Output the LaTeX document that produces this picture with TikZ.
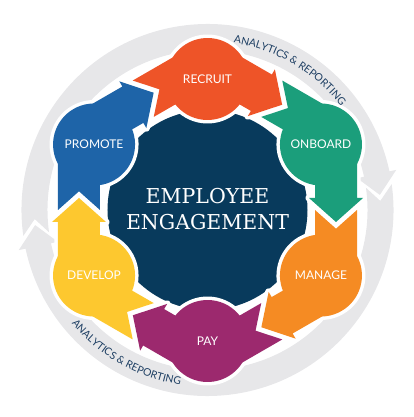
\documentclass[tikz,border=0pt]{standalone}
\usepackage{fontspec}
\usepackage{xcolor}
\usepackage{tikz}
\usetikzlibrary{decorations.text}
\newfontfamily\labelfont{Lato}
\newfontfamily\centrefont{DejaVu Serif}
\definecolor{ringgrey}{HTML}{E7E7E9}
\definecolor{corenavy}{HTML}{083A5C}
\definecolor{arcnavy}{HTML}{1E3F63}
\definecolor{recruitred}{HTML}{EE5428}
\definecolor{onboardgreen}{HTML}{1B9E7B}
\definecolor{manageorange}{HTML}{F58B23}
\definecolor{paypurple}{HTML}{9C296E}
\definecolor{developyellow}{HTML}{FDC82F}
\definecolor{promoteblue}{HTML}{1E64A8}

\newcommand{\arcfont}{\labelfont\fontsize{10.5}{12}\selectfont\color{arcnavy}}
% half of the grey ring, head at 5 degrees
\newcommand{\ringhalf}[1]{%
  \fill[ringgrey, rotate=#1] (188:186) arc[start angle=188, end angle=12, radius=186]
    -- (12:193) -- (5:173) -- (12:153) -- (12:160)
    arc[start angle=12, end angle=188, radius=160] -- (183:173) -- cycle;}
% one step of the cycle: circle, arrow head and notched tail
\newcommand{\cyclepart}[2]{%
  \begin{scope}[rotate=#1]
    \path[#2] (30:131) circle (41);
    \path[#2] (107.5,60) -- (107.5,12) -- (101.5,12) -- (128.5,-12)
      -- (155.5,12) -- (149.5,12) -- (149.5,60) -- cycle;
    \path[#2, rotate=60] (107.5,0) -- (128.5,-18.7) -- (149.5,0)
      -- (149.5,-60) -- (107.5,-60) -- cycle;
  \end{scope}}

\begin{document}
\begin{tikzpicture}[x=1pt, y=1pt,
    halo/.style={fill=white, draw=white, line width=7pt, line join=round},
    steplabel/.style={text=white, font=\labelfont\fontsize{12}{14}\selectfont},
    centretext/.style={text=white, align=center,
      font=\centrefont\fontsize{20.5}{26}\selectfont}]
  \useasboundingbox (-207.5,-207) rectangle (206.5,210);
  \ringhalf{0}
  \ringhalf{180}
  \fill[corenavy] (0,0) circle (100);
  \cyclepart{60}{halo}
  \cyclepart{0}{halo}
  \cyclepart{-60}{halo}
  \cyclepart{-120}{halo}
  \cyclepart{180}{halo}
  \cyclepart{120}{halo}
  \cyclepart{60}{fill=recruitred}
  \cyclepart{0}{fill=onboardgreen}
  \cyclepart{-60}{fill=manageorange}
  \cyclepart{-120}{fill=paypurple}
  \cyclepart{180}{fill=developyellow}
  \cyclepart{120}{fill=promoteblue}
  \path[decorate, decoration={text along path, text align=center,
      text={|\arcfont|ANALYTICS {\&} REPORTING}}]
    (89:169) arc[start angle=89, end angle=30, radius=169];
  \path[decorate, decoration={text along path, text align=center,
      text={|\arcfont|ANALYTICS {\&} REPORTING}}]
    (210:177) arc[start angle=210, end angle=271, radius=177];
  \node[centretext] (core) at (0,0.5) {EMPLOYEE\\ENGAGEMENT};
  \node[steplabel] (recruit) at (90:131) {RECRUIT};
  \node[steplabel] (onboard) at (30:131) {ONBOARD};
  \node[steplabel] (manage) at (-30:131) {MANAGE};
  \node[steplabel] (pay) at (-90:131) {PAY};
  \node[steplabel] (develop) at (-150:131) {DEVELOP};
  \node[steplabel] (promote) at (150:131) {PROMOTE};
\end{tikzpicture}
\end{document}
